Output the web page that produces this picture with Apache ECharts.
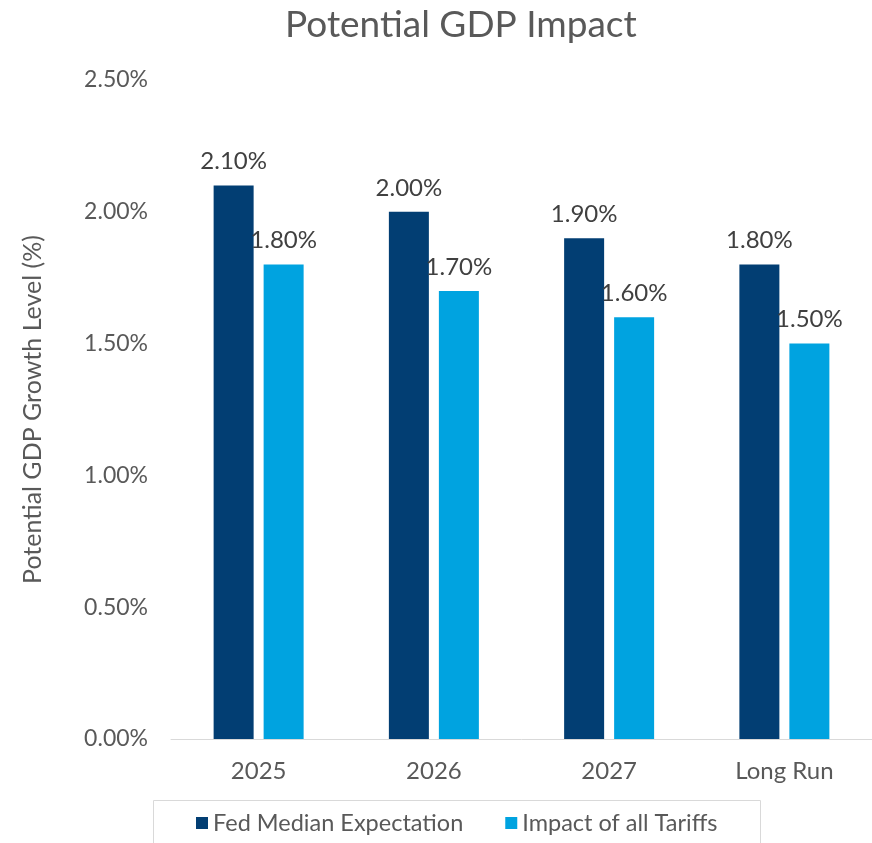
<!DOCTYPE html>
<html>
<head>
<meta charset="utf-8">
<script src="https://cdn.jsdelivr.net/npm/echarts@6/dist/echarts.min.js"></script>
<style>html,body{margin:0;padding:0;background:#fff}#c{width:872px;height:843px}</style>
</head>
<body>
<div id="c"></div>
<script>
const categories = ['2025', '2026', '2027', 'Long Run'];
const fedMedian = [2.10, 2.00, 1.90, 1.80];
const tariffImpact = [1.80, 1.70, 1.60, 1.50];
const seriesNames = ['Fed Median Expectation', 'Impact of all Tariffs'];

const FONT = 'Lato, "Open Sans", sans-serif';
const chart = echarts.init(document.getElementById('c'));
const pct = v => v.toFixed(2) + '%';
chart.setOption({
  animation: false,
  title: {
    text: 'Potential GDP Impact',
    left: 280, top: 2,
    textStyle: { fontFamily: FONT, fontSize: 37, fontWeight: 'normal', color: '#595959' }
  },
  grid: { left: 171, right: -1, top: 80, bottom: 104, containLabel: false },
  legend: {
    data: seriesNames,
    left: 191, top: 806,
    itemWidth: 12, itemHeight: 12, itemGap: 42,
    icon: 'rect',
    textStyle: { fontFamily: FONT, fontSize: 23.5, color: '#595959' }
  },
  graphic: [{
    type: 'rect', shape: { x: 153.5, y: 800.5, width: 607, height: 60 },
    style: { fill: 'none', stroke: '#d9d9d9', lineWidth: 1 }, silent: true
  }],
  xAxis: {
    type: 'category', data: categories,
    axisLine: { lineStyle: { color: '#d9d9d9', width: 1 } },
    axisTick: { show: false },
    axisLabel: { fontFamily: FONT, fontSize: 24, color: '#595959', margin: 20 }
  },
  yAxis: {
    type: 'value', min: 0, max: 2.5, interval: 0.5,
    name: 'Potential GDP Growth Level (%)', nameLocation: 'middle', nameGap: 126,
    nameTextStyle: { fontFamily: FONT, fontSize: 25, color: '#595959' },
    axisLine: { show: false }, axisTick: { show: false },
    splitLine: { show: false },
    axisLabel: { fontFamily: FONT, fontSize: 23, color: '#595959', margin: 23, formatter: pct }
  },
  series: [
    { name: seriesNames[0], type: 'bar', data: fedMedian, barWidth: 40, barGap: '25%',
      itemStyle: { color: '#023e73' },
      label: { show: true, position: 'top', distance: 12, fontFamily: FONT, fontSize: 24, color: '#404040', formatter: p => pct(p.value) } },
    { name: seriesNames[1], type: 'bar', data: tariffImpact, barWidth: 40,
      itemStyle: { color: '#00a3e0' },
      label: { show: true, position: 'top', distance: 12, fontFamily: FONT, fontSize: 24, color: '#404040', formatter: p => pct(p.value) } }
  ]
});
</script>
</body>
</html>
